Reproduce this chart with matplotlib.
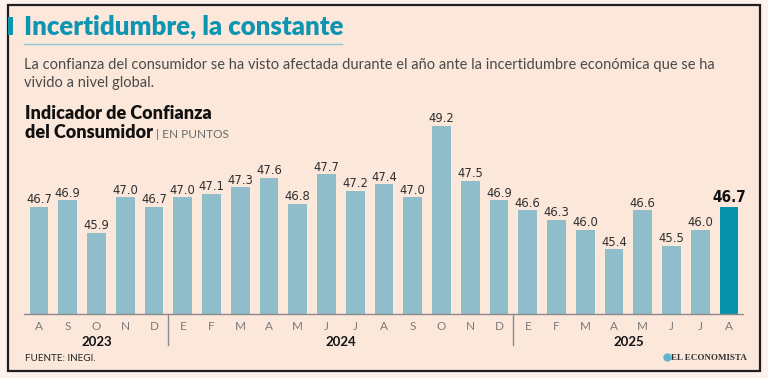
import matplotlib
matplotlib.use('Agg')
import matplotlib.pyplot as plt
from matplotlib import font_manager as fm
from matplotlib.patches import Rectangle
from matplotlib.lines import Line2D
from matplotlib.transforms import blended_transform_factory

# ---- data ----
months = ['A', 'S', 'O', 'N', 'D',
          'E', 'F', 'M', 'A', 'M', 'J', 'J', 'A', 'S', 'O', 'N', 'D',
          'E', 'F', 'M', 'A', 'M', 'J', 'J', 'A']
values = [46.7, 46.9, 45.9, 47.0, 46.7,
          47.0, 47.1, 47.3, 47.6, 46.8, 47.7, 47.2, 47.4, 47.0, 49.2, 47.5, 46.9,
          46.6, 46.3, 46.0, 45.4, 46.6, 45.5, 46.0, 46.7]
years = ['2023', '2024', '2025']
year_counts = [5, 12, 8]

title = 'Incertidumbre, la constante'
subtitle1 = ('La confianza del consumidor se ha visto afectada durante el año ante '
             'la incertidumbre económica que se ha')
subtitle2 = 'vivido a nivel global.'
chart_title1 = 'Indicador de Confianza'
chart_title2 = 'del Consumidor'
unit_text = '| EN PUNTOS'
source = 'FUENTE: INEGI.'
brand = 'EL ECONOMISTA'

# ---- fonts ----
names = {f.name for f in fm.fontManager.ttflist}
sans = 'Lato' if 'Lato' in names else 'DejaVu Sans'
serif = 'Liberation Serif' if 'Liberation Serif' in names else 'DejaVu Serif'


def find_narrow(bold):
    best = None
    for f in fm.fontManager.ttflist:
        narrowish = ('Narrow' in f.name or 'Condensed' in f.name
                     or f.stretch in ('condensed', 'semi-condensed', 'extra-condensed'))
        if not narrowish or 'Mono' in f.name or f.style != 'normal':
            continue
        w = f.weight if isinstance(f.weight, int) else (700 if 'bold' in str(f.weight) else 400)
        score = abs(w - (700 if bold else 400))
        if best is None or score < best[0]:
            best = (score, f.fname)
    return best[1] if best else None


nr = find_narrow(False)
nb = find_narrow(True)
if nr:
    fp_reg = fm.FontProperties(fname=nr)
    fp_bold = fm.FontProperties(fname=nb) if nb else fm.FontProperties(fname=nr, weight='bold')
else:
    fp_reg = fm.FontProperties(family='Roboto')
    fp_bold = fm.FontProperties(family='Roboto', weight='bold')

W, H = 768, 378
fig = plt.figure(figsize=(7.68, 3.78), dpi=100)
fig.patch.set_facecolor('#fdf2eb')


def fx(x):
    return x / W


def fy(y):
    return 1 - y / H


BG = '#fce8db'
TEAL = '#0e95b2'
BAR = '#8fbdca'
BAR_HI = '#0692aa'

# panel
fig.add_artist(Rectangle((fx(7.5), fy(371)), fx(760) - fx(7.5), (371 - 4.5) / H,
                         transform=fig.transFigure, facecolor=BG,
                         edgecolor='#1e1e1e', lw=1.6, zorder=0))
# accent bar
fig.add_artist(Rectangle((fx(7.5), fy(35)), fx(5.5), 18 / H, transform=fig.transFigure,
                         facecolor=TEAL, edgecolor='none', zorder=1))
# underline
fig.add_artist(Line2D([fx(24), fx(342)], [fy(44), fy(44)], transform=fig.transFigure,
                      color='#8cc8d5', lw=1.0))

fit_list = []

t_title = fig.text(fx(24), fy(35), title, color=TEAL, fontsize=16, family=sans,
                   weight='heavy', va='baseline', ha='left')
fit_list.append((t_title, 318))
t_sub1 = fig.text(fx(24), fy(69), subtitle1, color='#4a4a4a', fontsize=10.5,
                  family=sans, va='baseline', ha='left')
fit_list.append((t_sub1, 695))
t_sub2 = fig.text(fx(24), fy(87), subtitle2, color='#4a4a4a', fontsize=10.5,
                  family=sans, va='baseline', ha='left')
t_ct1 = fig.text(fx(25), fy(119.3), chart_title1, color='#111111', fontsize=11,
                 family=sans, weight='heavy', va='baseline', ha='left')
fit_list.append((t_ct1, 186))
t_ct2 = fig.text(fx(25), fy(138.3), chart_title2, color='#111111', fontsize=11,
                 family=sans, weight='heavy', va='baseline', ha='left')
t_unit = fig.text(fx(156), fy(138.3), unit_text, color='#6a6a6a', fontsize=9,
                  family=sans, weight='normal', va='baseline', ha='left')
fit_list.append((t_unit, 73))
t_src = fig.text(fx(25), fy(361), source, color='#222222', fontsize=7.5,
                 family=sans, va='baseline', ha='left')
fit_list.append((t_src, 71))
t_brand = fig.text(fx(747), fy(360), brand, color='#333333', fontsize=7.5,
                   family=serif, weight='bold', va='baseline', ha='right')
fit_list.append((t_brand, 75))
fig.add_artist(Line2D([fx(667)], [fy(356.5)], transform=fig.transFigure,
                      marker='o', markersize=5, color='#5fb3d3', lw=0))

# ---- chart ----
scale = 32.5  # px per unit
ymin = 43.4
ax = fig.add_axes([fx(24), fy(314), fx(743) - fx(24), (314 - 100) / H])
ax.set_facecolor('none')
n = len(values)
xs = list(range(n))
colors = [BAR] * (n - 1) + [BAR_HI]
ax.bar(xs, values, width=0.66, color=colors, zorder=2)
ax.set_xlim(-0.522, 24.487)
ax.set_ylim(ymin, ymin + 214 / scale)
for s in ['top', 'right', 'left']:
    ax.spines[s].set_visible(False)
ax.spines['bottom'].set_color('#8a8a8a')
ax.spines['bottom'].set_linewidth(1.0)
ax.set_xticks([])
ax.set_yticks([])

value_texts = []
for i, v in enumerate(values):
    last = (i == n - 1)
    fp = (fp_bold if last else fp_reg).copy()
    fp.set_size(13.5 if last else 11)
    t = ax.annotate(f'{v:.1f}', (i, v), xytext=(0, 3.3 if last else 2.4),
                    textcoords='offset points', ha='center', va='baseline',
                    fontproperties=fp,
                    color='#111111' if last else '#2e2e2e')
    value_texts.append(t)

tr = blended_transform_factory(ax.transData, fig.transFigure)
for i, m in enumerate(months):
    ax.text(i, fy(329.5), m, transform=tr, ha='center', va='baseline',
            family=sans, weight='normal', fontsize=8.5, color='#7a7a7a')

start = 0
for yr, c in zip(years, year_counts):
    center = start + (c - 1) / 2
    ax.text(center, fy(346), yr, transform=tr, ha='center', va='baseline',
            family=sans, weight='bold', fontsize=9.5, color='#111111')
    end = start + c
    if end < n:
        ax.add_artist(Line2D([end - 0.5, end - 0.5], [fy(314), fy(345)], transform=tr,
                             color='#8a8a8a', lw=1.0, clip_on=False))
    start = end

# ---- fit text widths ----
fig.canvas.draw()
r = fig.canvas.get_renderer()
for t, target in fit_list:
    w = t.get_window_extent(r).width
    t.set_fontsize(t.get_fontsize() * target / w)
t_sub2.set_fontsize(t_sub1.get_fontsize())
t_ct2.set_fontsize(t_ct1.get_fontsize())

# value labels: keep widths close to the reference (narrow digits)
w_reg = value_texts[20].get_window_extent(r).width
w_bold = value_texts[-1].get_window_extent(r).width
f_reg = min(11.5, 11.0 * 25.5 / w_reg)
f_bold = min(14.5, 13.5 * 34.0 / w_bold)
for i, t in enumerate(value_texts):
    t.set_fontsize(f_bold if i == n - 1 else f_reg)

fig.savefig('out.png', dpi=100, facecolor=fig.get_facecolor())
